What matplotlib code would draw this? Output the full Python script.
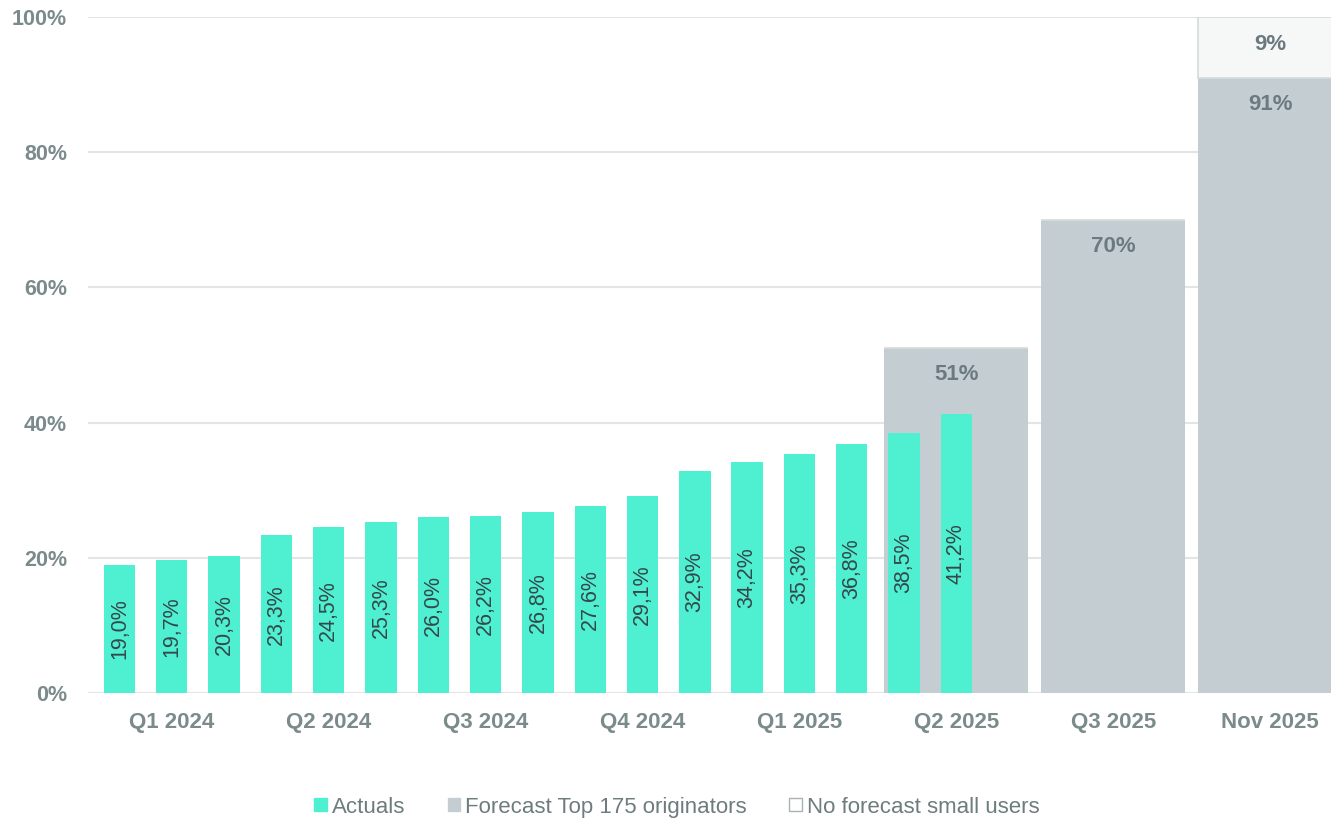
import matplotlib
matplotlib.use("Agg")
import matplotlib.pyplot as plt
from matplotlib.patches import Patch
import numpy as np

# data
quarters = ["Q1 2024", "Q2 2024", "Q3 2024", "Q4 2024", "Q1 2025", "Q2 2025", "Q3 2025", "Nov 2025"]
actuals = [19.0, 19.7, 20.3, 23.3, 24.5, 25.3, 26.0, 26.2, 26.8,
           27.6, 29.1, 32.9, 34.2, 35.3, 36.8, 38.5, 41.2]
forecast_labels = ["Q2 2025", "Q3 2025", "Nov 2025"]
forecast_top175 = [51, 70, 91]
forecast_small = [0, 0, 9]

teal = "#4FEFD1"
grey = "#C4CDD2"
white_box = "#F6F7F7"
tick_col = "#7B8A8B"
txt_col = "#34484A"
fc_txt = "#6B7A80"

plt.rcParams['font.family'] = ['Liberation Sans', 'DejaVu Sans']

fig = plt.figure(figsize=(13.31, 8.22), dpi=100)
ax = fig.add_axes([88 / 1331, 1 - 693 / 822, 1 - 88 / 1331, (693 - 17) / 822])

# each quarter = 3 monthly slots
x_month = np.arange(len(actuals))
x_quarter = np.arange(len(quarters)) * 3 + 1
x_fc = np.array([x_quarter[quarters.index(q)] for q in forecast_labels])

# forecast bars (behind)
ax.bar(x_fc, forecast_top175, width=2.75, color=grey, zorder=1)
ax.bar(x_fc, forecast_small, width=2.75, bottom=forecast_top175, color=white_box,
       edgecolor="#D5DBDD", linewidth=1.2, zorder=1)
for xx, v, s in zip(x_fc, forecast_top175, forecast_small):
    ax.annotate(f"{v}%", (xx, v), xytext=(0, -19), textcoords="offset points",
                ha="center", va="center", fontsize=16, fontweight="bold", color=fc_txt, zorder=3)
    if s:
        ax.annotate(f"{s}%", (xx, v + s), xytext=(0, -20), textcoords="offset points",
                    ha="center", va="center", fontsize=16, fontweight="bold", color=fc_txt, zorder=3)

# actual monthly bars
ax.bar(x_month, actuals, width=0.6, color=teal, zorder=2)
for xx, v in zip(x_month, actuals):
    ax.text(xx, v / 2, f"{v:.1f}%".replace(".", ","), rotation=90, ha="center", va="center",
            fontsize=15.5, color=txt_col, zorder=3)

ax.set_ylim(0, 100)
ax.set_xlim(-0.6, 23.16)
ax.set_yticks(np.arange(0, 101, 20))
ax.set_yticklabels([f"{t}%" for t in range(0, 101, 20)])
ax.set_xticks(x_quarter)
ax.set_xticklabels(quarters)
ax.tick_params(axis="both", length=0, colors=tick_col, labelsize=16)
ax.tick_params(axis="y", pad=15, labelsize=15.5)
ax.tick_params(axis="x", pad=14)
for lab in ax.get_xticklabels() + ax.get_yticklabels():
    lab.set_fontweight("bold")

ax.grid(axis="y", color="#E2E5E5", linewidth=1.5, zorder=0)
ax.set_axisbelow(True)
for sp in ax.spines.values():
    sp.set_visible(False)

handles = [Patch(facecolor=teal, edgecolor=teal),
           Patch(facecolor=grey, edgecolor=grey),
           Patch(facecolor="white", edgecolor="#A9B1B3", linewidth=1)]
leg = fig.legend(handles, ["Actuals", "Forecast Top 175 originators", "No forecast small users"],
                 loc="center", bbox_to_anchor=(677 / 1331, 1 - 807 / 822), ncol=3, frameon=False,
                 handlelength=0.55, handleheight=0.55, handletextpad=0.25, columnspacing=1.9,
                 prop={'size': 16})
for t in leg.get_texts():
    t.set_color("#6E7C7E")

fig.savefig("out.png", dpi=100)
